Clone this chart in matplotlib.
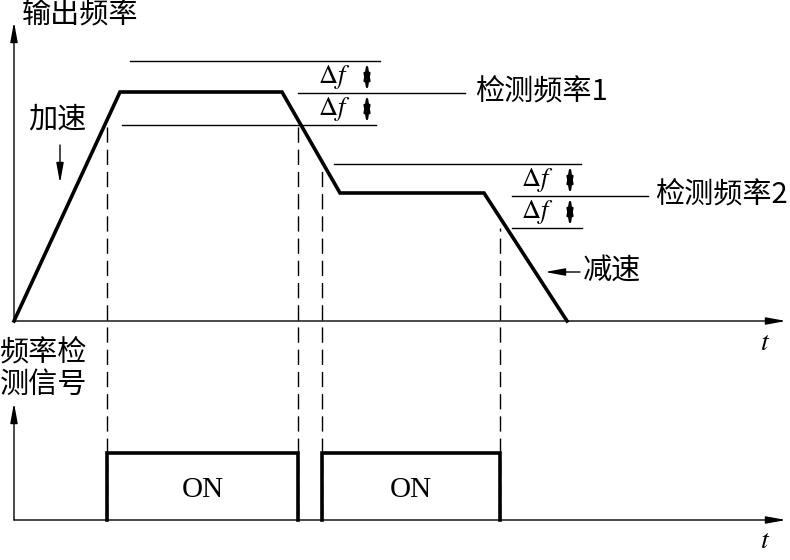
import matplotlib.pyplot as plt

plt.rcParams['font.family'] = ['Noto Sans CJK SC', 'DejaVu Sans']
plt.rcParams['mathtext.fontset'] = 'stix'
plt.rcParams['lines.scale_dashes'] = False

# Output frequency profile (time, frequency) in diagram units
t_profile = [0, 106, 268, 326, 470, 553]
f_profile = [0, 229, 229, 128, 128, 0]

# Detection levels and hysteresis width
detect_levels = [228, 125]
detect_labels = ['检测频率1', '检测频率2']
delta_f = 32

# Frequency detection signal: ON intervals
on_intervals = [(93, 284), (308, 486)]
on_labels = ['ON', 'ON']

# Dashed switch-time markers and the level each one starts from
switch_t = [93, 284, 308, 486]
switch_f = [196, 196, 157, 93]

t_max = 772
sig_base = -199
sig_high = -132
sig_top = -82

fig = plt.figure(figsize=(7.9, 5.6), dpi=100)
ax = fig.add_axes([0, 0, 1, 1])
ax.set_xlim(-14, 776)
ax.set_ylim(-239, 321)
ax.axis('off')

thin = 1.0
bold = 2.6
cjk = 21


def arrow(x0, y0, x1, y1, style='-|>,head_length=0.6,head_width=0.11', lw=thin):
    ax.annotate('', xy=(x1, y1), xytext=(x0, y0),
                arrowprops=dict(arrowstyle=style, color='black', lw=lw,
                                shrinkA=0, shrinkB=0, mutation_scale=20))


# axes of the upper diagram
arrow(0, 0, 0, 299)
arrow(0, 0, t_max, 0)
ax.text(8, 305, '输出频率', fontsize=cjk, va='center', ha='left')
ax.text(751, -21, '$t$', fontsize=20, va='center', ha='center')

# frequency profile
ax.plot(t_profile, f_profile, color='black', lw=bold, solid_joinstyle='miter')

# detection bands
band_spans = [
    [(116, 366), (284, 451), (108, 362)],
    [(320, 567), (498, 634), (498, 568)],
]
arrow_t = [353, 556]
label_t = [461, 641]
dbl = '<|-|>,head_length=0.5,head_width=0.09'
for lvl, lab, spans, at, lt in zip(detect_levels, detect_labels, band_spans,
                                   arrow_t, label_t):
    levels = [lvl + delta_f, lvl, lvl - delta_f]
    for (a, b), y in zip(spans, levels):
        ax.plot([a, b], [y, y], color='black', lw=thin)
    arrow(at, lvl, at, lvl + delta_f, dbl, lw=1.6)
    arrow(at, lvl, at, lvl - delta_f, dbl, lw=1.6)
    ax.text(at - 33, lvl + delta_f / 2, r'$\Delta f$', fontsize=19,
            ha='center', va='center')
    ax.text(at - 33, lvl - delta_f / 2, r'$\Delta f$', fontsize=19,
            ha='center', va='center')
    ax.text(lt, lvl, lab, fontsize=cjk, ha='left', va='center')

# acceleration / deceleration notes
ax.text(14, 201, '加速', fontsize=cjk, ha='left', va='center')
arrow(46, 176, 46, 138)
ax.text(569, 49, '减速', fontsize=cjk, ha='left', va='center')
arrow(566, 49, 531, 49)

# dashed switch markers
for t, f in zip(switch_t, switch_f):
    ax.plot([t, t], [sig_base, f], color='black', lw=thin, dashes=(11, 5))

# lower diagram: detection signal
arrow(0, sig_base, 0, sig_top)
arrow(0, sig_base, t_max, sig_base)
ax.text(751, -219, '$t$', fontsize=20, va='center', ha='center')
ax.text(-14, -48, '频率检\n测信号', fontsize=cjk, ha='left', va='center',
        linespacing=1.05)

for (a, b), lab in zip(on_intervals, on_labels):
    ax.plot([a, a, b, b], [sig_base, sig_high, sig_high, sig_base],
            color='black', lw=bold, solid_joinstyle='miter')
    ax.text((a + b) / 2, -169, lab, fontsize=21, family='Liberation Serif',
            ha='center', va='center')

fig.savefig('out.png', dpi=100)
